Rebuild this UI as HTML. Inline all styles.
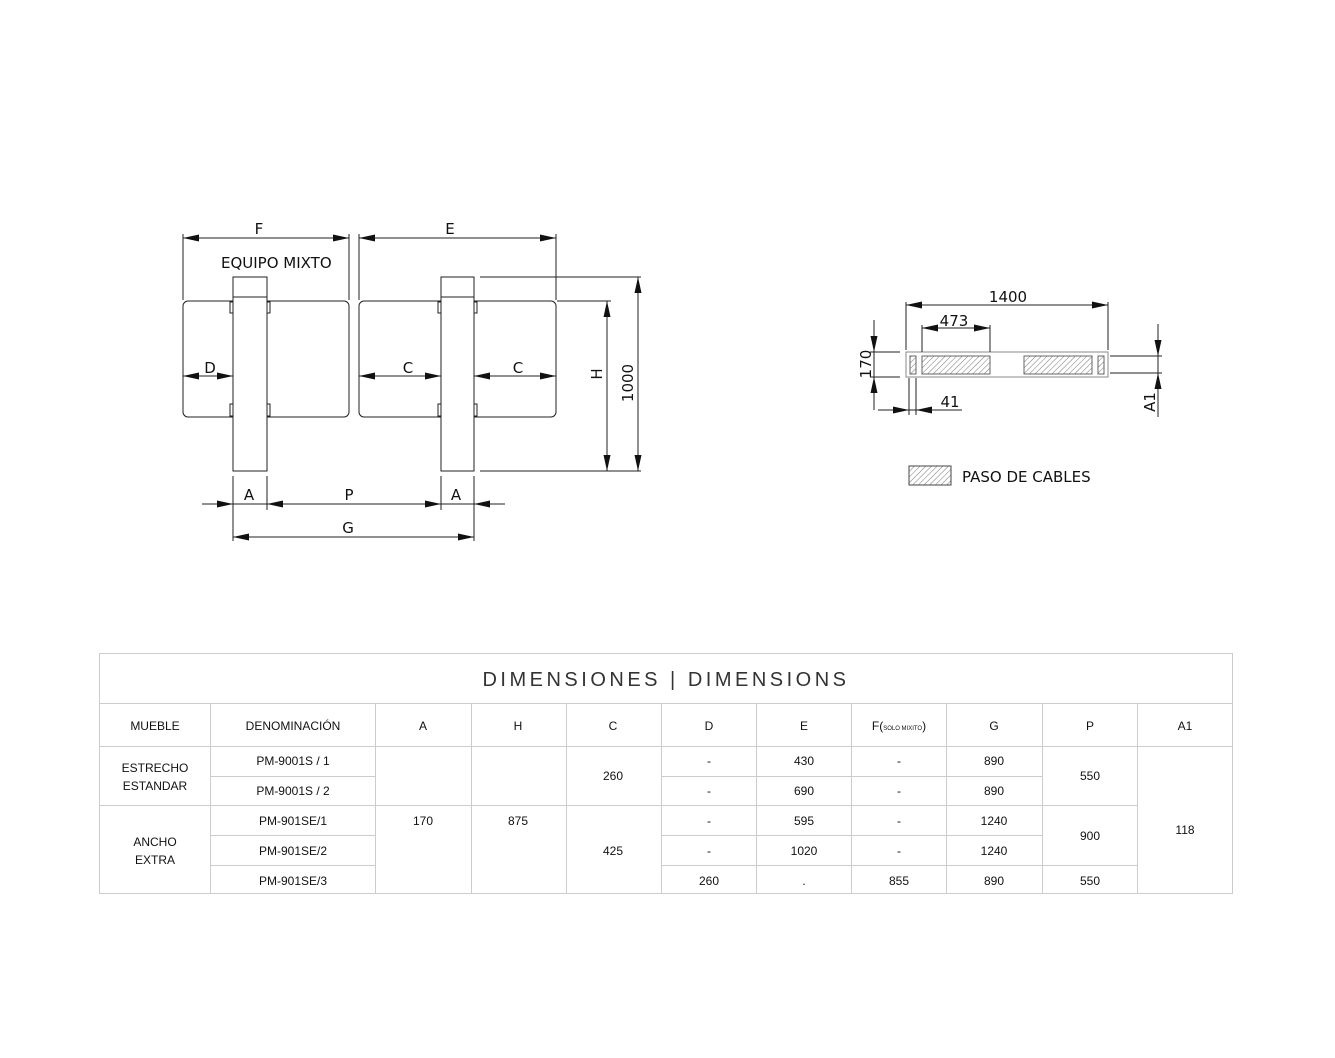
<!DOCTYPE html>
<html><head><meta charset="utf-8"><style>
html,body{margin:0;padding:0;background:#fff}
svg{display:block}
text{font-family:"Liberation Sans","DejaVu Sans",sans-serif;fill:#111}
.d text{font-family:"DejaVu Sans","Liberation Sans",sans-serif;font-size:15px}
.t text{font-size:12px;text-anchor:middle}
</style></head><body>
<svg width="1335" height="1058" viewBox="0 0 1335 1058" xmlns="http://www.w3.org/2000/svg">
<defs>
<marker id="ae" markerUnits="userSpaceOnUse" markerWidth="16" markerHeight="8" refX="16" refY="4" orient="auto"><path d="M0,0.5 L16,4 L0,7.5 Z" fill="#111"/></marker>
<marker id="as" markerUnits="userSpaceOnUse" markerWidth="16" markerHeight="8" refX="0" refY="4" orient="auto"><path d="M16,0.5 L0,4 L16,7.5 Z" fill="#111"/></marker>
<pattern id="h" patternUnits="userSpaceOnUse" width="4" height="4" patternTransform="rotate(45)"><line x1="0" y1="0" x2="0" y2="4" stroke="#777" stroke-width="1"/></pattern>
</defs>
<g stroke="#222" stroke-width="1" fill="none">
<rect x="183" y="301" width="166" height="116" rx="5"/>
<rect x="359" y="301" width="197" height="116" rx="5"/>
<rect x="230" y="302" width="3" height="11"/><rect x="267" y="302" width="3" height="11"/>
<rect x="230" y="404" width="3" height="12"/><rect x="267" y="404" width="3" height="12"/>
<rect x="438" y="302" width="3" height="11"/><rect x="474" y="302" width="3" height="11"/>
<rect x="438" y="404" width="3" height="12"/><rect x="474" y="404" width="3" height="12"/>
<rect x="233" y="277" width="34" height="194" fill="#fff"/><line x1="233" y1="297" x2="267" y2="297"/>
<rect x="441" y="277" width="33" height="194" fill="#fff"/><line x1="441" y1="297" x2="474" y2="297"/>
<line x1="183" y1="234" x2="183" y2="300"/><line x1="349" y1="234" x2="349" y2="300"/>
<line x1="183" y1="238" x2="349" y2="238" marker-start="url(#as)" marker-end="url(#ae)"/>
<line x1="359" y1="234" x2="359" y2="300"/><line x1="556" y1="234" x2="556" y2="300"/>
<line x1="359" y1="238" x2="556" y2="238" marker-start="url(#as)" marker-end="url(#ae)"/>
<line x1="183" y1="376" x2="233" y2="376" marker-start="url(#as)" marker-end="url(#ae)"/>
<line x1="359" y1="376" x2="441" y2="376" marker-start="url(#as)" marker-end="url(#ae)"/>
<line x1="474" y1="376" x2="556" y2="376" marker-start="url(#as)" marker-end="url(#ae)"/>
<line x1="557" y1="301" x2="611" y2="301"/>
<line x1="480" y1="277" x2="641" y2="277"/>
<line x1="480" y1="471" x2="641" y2="471"/>
<line x1="607" y1="301" x2="607" y2="471" marker-start="url(#as)" marker-end="url(#ae)"/>
<line x1="638" y1="277" x2="638" y2="471" marker-start="url(#as)" marker-end="url(#ae)"/>
<line x1="233" y1="476" x2="233" y2="541"/><line x1="267" y1="476" x2="267" y2="510"/>
<line x1="441" y1="476" x2="441" y2="510"/><line x1="474" y1="476" x2="474" y2="541"/>
<line x1="202" y1="504" x2="505" y2="504"/>
<line x1="202" y1="504" x2="233" y2="504" marker-end="url(#ae)"/>
<line x1="267" y1="504" x2="441" y2="504" marker-start="url(#as)" marker-end="url(#ae)"/>
<line x1="474" y1="504" x2="505" y2="504" marker-start="url(#as)"/>
<line x1="233" y1="537" x2="474" y2="537" marker-start="url(#as)" marker-end="url(#ae)"/>
<rect x="906" y="352" width="202" height="25" stroke="#888"/>
<rect x="922" y="356" width="68" height="18" fill="url(#h)" stroke="#666"/>
<rect x="1024" y="356" width="68" height="18" fill="url(#h)" stroke="#666"/>
<rect x="910" y="356" width="6" height="18" fill="url(#h)" stroke="#666"/>
<rect x="1098" y="356" width="6" height="18" fill="url(#h)" stroke="#666"/>
<line x1="906" y1="302" x2="906" y2="350"/><line x1="1108" y1="302" x2="1108" y2="350"/>
<line x1="906" y1="305" x2="1108" y2="305" marker-start="url(#as)" marker-end="url(#ae)"/>
<line x1="922" y1="325" x2="922" y2="352"/><line x1="990" y1="325" x2="990" y2="352"/>
<line x1="922" y1="328" x2="990" y2="328" marker-start="url(#as)" marker-end="url(#ae)"/>
<line x1="870" y1="352" x2="900" y2="352"/><line x1="870" y1="377" x2="900" y2="377"/>
<line x1="874" y1="320" x2="874" y2="410"/>
<line x1="874" y1="320" x2="874" y2="352" marker-end="url(#ae)"/>
<line x1="874" y1="410" x2="874" y2="377" marker-end="url(#ae)"/>
<line x1="1110" y1="356" x2="1162" y2="356"/><line x1="1110" y1="373" x2="1162" y2="373"/>
<line x1="1158" y1="324" x2="1158" y2="417"/>
<line x1="1158" y1="324" x2="1158" y2="356" marker-end="url(#ae)"/>
<line x1="1158" y1="405" x2="1158" y2="373" marker-end="url(#ae)"/>
<line x1="909" y1="378" x2="909" y2="415"/><line x1="916" y1="378" x2="916" y2="415"/>
<line x1="878" y1="410" x2="962" y2="410"/>
<line x1="878" y1="410" x2="909" y2="410" marker-end="url(#ae)"/>
<line x1="947" y1="410" x2="916" y2="410" marker-end="url(#ae)"/>
<rect x="909" y="466" width="42" height="19" fill="url(#h)" stroke="#444"/>
</g>
<g class="d">
<text x="259" y="234" text-anchor="middle">F</text>
<text x="450" y="234" text-anchor="middle">E</text>
<text x="221" y="268">EQUIPO MIXTO</text>
<text x="210" y="373" text-anchor="middle">D</text>
<text x="408" y="373" text-anchor="middle">C</text>
<text x="518" y="373" text-anchor="middle">C</text>
<text transform="translate(602,374) rotate(-90)" text-anchor="middle">H</text>
<text transform="translate(633,383) rotate(-90)" text-anchor="middle">1000</text>
<text x="249" y="500" text-anchor="middle">A</text>
<text x="349" y="500" text-anchor="middle">P</text>
<text x="456" y="500" text-anchor="middle">A</text>
<text x="348" y="533" text-anchor="middle">G</text>
<text x="1008" y="302" text-anchor="middle">1400</text>
<text x="954" y="326" text-anchor="middle">473</text>
<text transform="translate(871,364) rotate(-90)" text-anchor="middle">170</text>
<text x="950" y="407" text-anchor="middle">41</text>
<text transform="translate(1155,402) rotate(-90)" text-anchor="middle">A1</text>
<text x="962" y="482">PASO DE CABLES</text>
</g>
<g stroke="#ccc" stroke-width="1" fill="none">
<rect x="99.5" y="653.5" width="1133" height="240"/>
<line x1="99" y1="703.5" x2="1233" y2="703.5"/>
<line x1="99" y1="746.5" x2="1233" y2="746.5"/>
<line x1="99" y1="805.5" x2="566" y2="805.5"/>
<line x1="210" y1="776.5" x2="375" y2="776.5"/>
<line x1="210" y1="835.5" x2="375" y2="835.5"/>
<line x1="210" y1="865.5" x2="375" y2="865.5"/>
<line x1="566" y1="805.5" x2="1137" y2="805.5"/>
<line x1="661" y1="776.5" x2="1042" y2="776.5"/>
<line x1="661" y1="835.5" x2="1042" y2="835.5"/>
<line x1="661" y1="865.5" x2="1137" y2="865.5"/>
<line x1="210.5" y1="703" x2="210.5" y2="894"/>
<line x1="375.5" y1="703" x2="375.5" y2="894"/>
<line x1="471.5" y1="703" x2="471.5" y2="894"/>
<line x1="566.5" y1="703" x2="566.5" y2="894"/>
<line x1="661.5" y1="703" x2="661.5" y2="894"/>
<line x1="756.5" y1="703" x2="756.5" y2="894"/>
<line x1="851.5" y1="703" x2="851.5" y2="894"/>
<line x1="946.5" y1="703" x2="946.5" y2="894"/>
<line x1="1042.5" y1="703" x2="1042.5" y2="894"/>
<line x1="1137.5" y1="703" x2="1137.5" y2="894"/>
</g>
<text x="666" y="686" text-anchor="middle" style="font-size:20px;letter-spacing:3.5px;fill:#333;font-weight:300">DIMENSIONES | DIMENSIONS</text>
<g class="t">
<text x="155" y="730">MUEBLE</text><text x="293" y="730">DENOMINACIÓN</text>
<text x="423" y="730">A</text><text x="518" y="730">H</text><text x="613" y="730">C</text>
<text x="709" y="730">D</text><text x="804" y="730">E</text>
<text x="899" y="730">F(<tspan style="font-size:6px">SOLO MIXITO</tspan>)</text>
<text x="994" y="730">G</text><text x="1090" y="730">P</text><text x="1185" y="730">A1</text>
<text x="155" y="772">ESTRECHO</text><text x="155" y="790">ESTANDAR</text>
<text x="155" y="846">ANCHO</text><text x="155" y="864">EXTRA</text>
<text x="293" y="765">PM-9001S / 1</text><text x="293" y="795">PM-9001S / 2</text>
<text x="293" y="825">PM-901SE/1</text><text x="293" y="855">PM-901SE/2</text><text x="293" y="885">PM-901SE/3</text>
<text x="423" y="825">170</text><text x="518" y="825">875</text>
<text x="613" y="780">260</text><text x="613" y="855">425</text>
<text x="709" y="765">-</text><text x="709" y="795">-</text><text x="709" y="825">-</text><text x="709" y="855">-</text><text x="709" y="885">260</text>
<text x="804" y="765">430</text><text x="804" y="795">690</text><text x="804" y="825">595</text><text x="804" y="855">1020</text><text x="804" y="885">.</text>
<text x="899" y="765">-</text><text x="899" y="795">-</text><text x="899" y="825">-</text><text x="899" y="855">-</text><text x="899" y="885">855</text>
<text x="994" y="765">890</text><text x="994" y="795">890</text><text x="994" y="825">1240</text><text x="994" y="855">1240</text><text x="994" y="885">890</text>
<text x="1090" y="780">550</text><text x="1090" y="840">900</text><text x="1090" y="885">550</text>
<text x="1185" y="834">118</text>
</g>
</svg>
</body></html>
